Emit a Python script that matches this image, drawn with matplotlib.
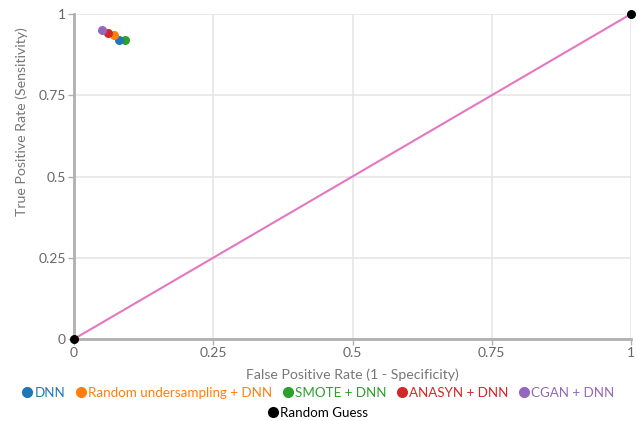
import matplotlib.pyplot as plt
from matplotlib.lines import Line2D

plt.rcParams['font.family'] = ['Lato', 'DejaVu Sans']

# Dades
models = ['DNN', 'Random undersampling + DNN', 'SMOTE + DNN', 'ANASYN + DNN', 'CGAN + DNN']
fpr = [0.081, 0.072, 0.092, 0.061, 0.050]
tpr = [0.920, 0.935, 0.920, 0.941, 0.951]
colors = ['#1f77b4', '#ff7f0e', '#2ca02c', '#d62728', '#9467bd']
guess_x = [0, 1]
guess_y = [0, 1]
ticks = [0, 0.25, 0.5, 0.75, 1]
tick_labels = ['0', '0.25', '0.5', '0.75', '1']

fig = plt.figure(figsize=(6.37, 4.21), dpi=100)
ax = fig.add_axes([74/637, 82/421, 557/637, 325/421])

ax.plot(guess_x, guess_y, color='#e377c2', lw=1.5, zorder=2)
ax.scatter(guess_x, guess_y, color='black', s=30, zorder=4, clip_on=False)

# Draw the models back to front so the purple one sits on top
order = [2, 0, 1, 3, 4]
for i in order:
    ax.scatter(fpr[i], tpr[i], color=colors[i], s=30, zorder=3)

ax.set_xlim(0, 1)
ax.set_ylim(0, 1)
ax.set_xticks(ticks)
ax.set_xticklabels(tick_labels)
ax.set_yticks(ticks)
ax.set_yticklabels(tick_labels)
ax.grid(True, color='#e6e6e6', lw=1.2)
ax.set_axisbelow(True)
for s in ['top', 'right']:
    ax.spines[s].set_visible(False)
for s in ['left', 'bottom']:
    ax.spines[s].set_color('#b0b0b0')
    ax.spines[s].set_linewidth(2)
ax.tick_params(length=4, width=1, color='#b0b0b0', labelcolor='#666666', labelsize=10, pad=2)

ax.set_xlabel('False Positive Rate (1 - Specificity)', color='#777777', fontsize=10.2)
ax.set_ylabel('True Positive Rate (Sensitivity)', color='#777777', fontsize=10.2)
ax.xaxis.set_label_coords(0.5, -0.092)
ax.yaxis.set_label_coords(-0.082, 0.67)

handles = [Line2D([], [], marker='o', ls='', color=c, markersize=7) for c in colors]
leg1 = fig.legend(handles, models, loc='center', bbox_to_anchor=(0.5, (421-393)/421),
                  ncol=5, frameon=False, labelcolor=colors, fontsize=9.6,
                  handletextpad=0.2, columnspacing=0.8, handlelength=0.7, borderpad=0)
h2 = [Line2D([], [], marker='o', ls='', color='black', markersize=7)]
leg2 = fig.legend(h2, ['Random Guess'], loc='center', bbox_to_anchor=(0.5, (421-413)/421),
                  frameon=False, labelcolor='black', fontsize=9.6,
                  handletextpad=0.2, handlelength=0.7, borderpad=0)

fig.savefig('out.png', dpi=100)
